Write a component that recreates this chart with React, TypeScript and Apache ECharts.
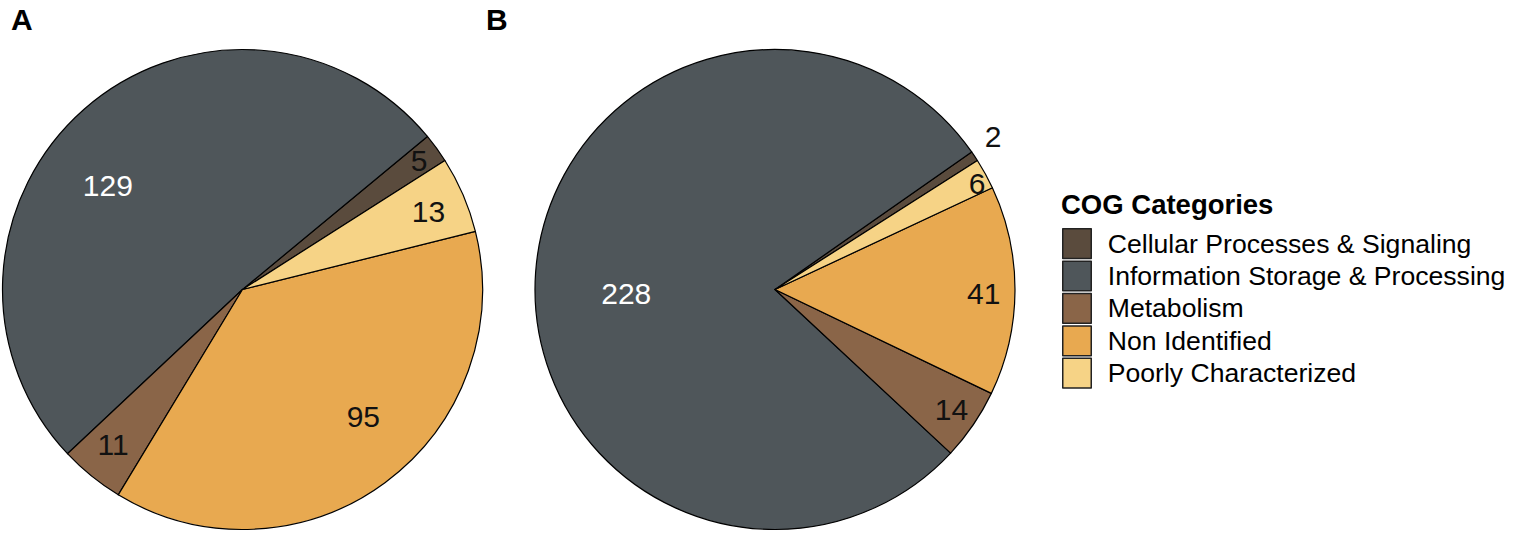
import React, { useEffect, useRef } from "react";
import * as echarts from "echarts";

// ---- data ----
const categories = [
  "Cellular Processes & Signaling",
  "Information Storage & Processing",
  "Metabolism",
  "Non Identified",
  "Poorly Characterized",
];
const countsA = [5, 129, 11, 95, 13];
const countsB = [2, 228, 14, 41, 6];
const panelLabels = ["A", "B"];
const legendTitle = "COG Categories";

// ---- styles / placement (not data) ----
const colors = ["#5a4b3d", "#4f565a", "#8a6548", "#e8a950", "#f6d386"];
const labelColors = ["#111111", "#ffffff", "#111111", "#111111", "#111111"];
// label placement relative to each slice's mid angle: [angle nudge (deg), radius fraction]
const labelPlacementA = [[0, 0.91], [10.8, 0.71], [-0.9, 0.84], [7.2, 0.73], [-0.6, 0.84]];
const labelPlacementB = [[1.3, 1.11], [5.4, 0.62], [0, 0.89], [-0.7, 0.87], [-1.2, 0.95]];
const START_ANGLE = 32.5;
const RADIUS = 240;
const CENTERS = [
  [242.5, 289.5],
  [775, 289.5],
];
const FONT = "'Liberation Sans', Arial, Helvetica, sans-serif";

function midAngles(values: number[]): number[] {
  const total = values.reduce((a, b) => a + b, 0);
  let cum = 0;
  return values.map((v) => {
    const m = START_ANGLE + ((cum + v / 2) / total) * 360;
    cum += v;
    return m;
  });
}

function pieSeries(values: number[], center: number[], placement: number[][]) {
  const mids = midAngles(values);
  return {
    type: "pie",
    center: center,
    radius: RADIUS,
    startAngle: START_ANGLE,
    clockwise: false,
    avoidLabelOverlap: false,
    emphasis: { disabled: true },
    itemStyle: { borderColor: "#000000", borderWidth: 1.2 },
    label: {
      show: true,
      position: "inside",
      formatter: "{c}",
      fontSize: 30,
      fontFamily: FONT,
    },
    labelLine: { show: false },
    labelLayout: (p: any) => {
      const i = p.dataIndex;
      const ang = ((mids[i] + placement[i][0]) * Math.PI) / 180;
      const r = placement[i][1] * RADIUS;
      return {
        x: center[0] + r * Math.cos(ang),
        y: center[1] - r * Math.sin(ang),
        align: "center",
        verticalAlign: "middle",
      };
    },
    data: categories.map((name, i) => ({
      name,
      value: values[i],
      itemStyle: { color: colors[i] },
      label: { color: labelColors[i] },
    })),
  };
}

export default function App() {
  const ref = useRef<HTMLDivElement>(null);
  useEffect(() => {
    if (!ref.current) return;
    const chart = echarts.init(ref.current, null, { renderer: "svg" });
    chart.setOption({
      animation: false,
      backgroundColor: "#ffffff",
      title: [
        {
          text: panelLabels[0],
          left: 11,
          top: 4,
          padding: 0,
          textStyle: { fontSize: 30, fontWeight: "bold", color: "#000", fontFamily: FONT },
        },
        {
          text: panelLabels[1],
          left: 486,
          top: 4,
          padding: 0,
          textStyle: { fontSize: 30, fontWeight: "bold", color: "#000", fontFamily: FONT },
        },
        {
          text: legendTitle,
          left: 1061,
          top: 190,
          padding: 0,
          textStyle: { fontSize: 27.5, fontWeight: "bold", color: "#000", fontFamily: FONT },
        },
      ],
      legend: {
        data: categories,
        orient: "vertical",
        left: 1062,
        top: 228,
        padding: 0,
        itemWidth: 28.5,
        itemHeight: 29.7,
        itemGap: 1.2,
        icon: "rect",
        selectedMode: false,
        itemStyle: { borderColor: "#222222", borderWidth: 1.5 },
        textStyle: {
          fontSize: 26.6,
          lineHeight: 26,
          color: "#000000",
          fontFamily: FONT,
          padding: [0, 0, 0, 11.5],
        },
      },
      series: [
        pieSeries(countsA, CENTERS[0], labelPlacementA),
        pieSeries(countsB, CENTERS[1], labelPlacementB),
      ],
    });
    return () => chart.dispose();
  }, []);
  return (
    <div
      ref={ref}
      style={{ position: "fixed", left: 0, top: 0, width: 1513, height: 546, background: "#fff" }}
    />
  );
}
